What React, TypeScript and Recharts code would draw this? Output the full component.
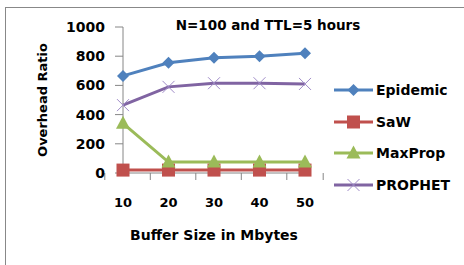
import { LineChart, Line, XAxis, YAxis } from "recharts";

const bufferSizes = ["10", "20", "30", "40", "50"];
const epidemic = [665, 755, 790, 800, 820];
const saw = [20, 20, 20, 20, 20];
const maxProp = [340, 75, 75, 75, 75];
const prophet = [465, 590, 615, 615, 610];
const yTicks = [0, 200, 400, 600, 800, 1000];

const data = bufferSizes.map((b, i) => ({
  b,
  Epidemic: epidemic[i],
  SaW: saw[i],
  MaxProp: maxProp[i],
  PROPHET: prophet[i],
}));

const W = 464;
const H = 265;
const M = { top: 27, right: 159, left: 0, bottom: 62 };
const Y_W = 123;
const X_H = 30;
const HALF_BAND = (W - Y_W - M.right) / bufferSizes.length / 2;
const FONT = "'DejaVu Sans', sans-serif";
const AXIS = "#868686";

const COLORS = {
  Epidemic: "#4F81BD",
  SaW: "#C0504D",
  MaxProp: "#9BBB59",
  PROPHET: "#8064A2",
};

function Marker({ kind, cx, cy }: { kind: string; cx: number; cy: number }) {
  if (kind === "Epidemic") {
    const r = 6;
    return (
      <polygon
        points={`${cx},${cy - r} ${cx + r},${cy} ${cx},${cy + r} ${cx - r},${cy}`}
        fill={COLORS.Epidemic}
      />
    );
  }
  if (kind === "SaW") {
    return <rect x={cx - 6.5} y={cy - 6.5} width={13} height={13} fill={COLORS.SaW} />;
  }
  if (kind === "MaxProp") {
    return (
      <polygon
        points={`${cx},${cy - 7.5} ${cx + 7},${cy + 5.5} ${cx - 7},${cy + 5.5}`}
        fill={COLORS.MaxProp}
      />
    );
  }
  const r = 6;
  return (
    <g stroke="#A08CC8" strokeWidth={1}>
      <line x1={cx - r} y1={cy - r} x2={cx + r} y2={cy + r} />
      <line x1={cx - r} y1={cy + r} x2={cx + r} y2={cy - r} />
    </g>
  );
}

function dotFor(kind: string) {
  return (p: any) => <Marker key={`${kind}-${p.index}`} kind={kind} cx={p.cx} cy={p.cy} />;
}

function XTick({ x, y, payload, index }: any) {
  return (
    <g>
      <line x1={x - HALF_BAND} y1={y} x2={x - HALF_BAND} y2={y + 7} stroke={AXIS} />
      {index === bufferSizes.length - 1 && (
        <line x1={x + HALF_BAND} y1={y} x2={x + HALF_BAND} y2={y + 7} stroke={AXIS} />
      )}
      <text
        x={x}
        y={y + 34}
        textAnchor="middle"
        fontFamily={FONT}
        fontWeight="bold"
        fontSize={13}
        fill="#000"
      >
        {payload.value}
      </text>
    </g>
  );
}

const series = ["Epidemic", "SaW", "MaxProp", "PROPHET"] as const;

function LegendBox() {
  return (
    <div style={{ position: "absolute", left: 334, top: 74 }}>
      {series.map((s) => (
        <div key={s} style={{ display: "flex", alignItems: "center", height: 31.7 }}>
          <svg width={40} height={16}>
            <line x1={0} y1={8} x2={39} y2={8} stroke={COLORS[s]} strokeWidth={3} />
            <Marker kind={s} cx={19.5} cy={8} />
          </svg>
          <span
            style={{
              fontFamily: FONT,
              fontWeight: "bold",
              fontSize: 14,
              marginLeft: 2,
              color: "#000",
            }}
          >
            {s}
          </span>
        </div>
      ))}
    </div>
  );
}

export default function App() {
  return (
    <div
      style={{
        position: "absolute",
        left: 0,
        top: 0,
        width: W,
        height: H,
        background: "#fff",
        overflow: "hidden",
      }}
    >
      <div
        style={{
          position: "absolute",
          left: 5,
          top: 7,
          width: W,
          height: H,
          borderLeft: "1.5px solid #888",
          borderTop: "1.5px solid #888",
        }}
      />
      <div
        style={{
          position: "absolute",
          left: 268,
          top: 17,
          transform: "translateX(-50%)",
          whiteSpace: "nowrap",
          fontFamily: FONT,
          fontWeight: "bold",
          fontSize: 13.5,
          color: "#000",
        }}
      >
        N=100 and TTL=5 hours
      </div>
      <LineChart width={W} height={H} data={data} margin={M}>
        <XAxis
          dataKey="b"
          height={X_H}
          axisLine={{ stroke: AXIS }}
          tickLine={false}
          tickSize={0}
          tickMargin={0}
          tick={<XTick />}
          interval={0}
          label={(p: any) => {
            const vb = p.viewBox;
            return (
              <text
                x={vb.x + vb.width / 2}
                y={vb.y + 67}
                textAnchor="middle"
                fontFamily={FONT}
                fontWeight="bold"
                fontSize={14}
                fill="#000"
              >
                Buffer Size in Mbytes
              </text>
            );
          }}
        />
        <YAxis
          width={Y_W}
          domain={[0, 1000]}
          ticks={yTicks}
          interval={0}
          axisLine={{ stroke: AXIS }}
          tickLine={{ stroke: AXIS }}
          tickSize={8}
          tickMargin={10}
          tick={{ fill: "#000", fontFamily: FONT, fontWeight: "bold", fontSize: 14 }}
          label={(p: any) => {
            const vb = p.viewBox;
            const cy = vb.y + vb.height / 2;
            return (
              <text
                x={42}
                y={cy}
                transform={`rotate(-90 42 ${cy})`}
                textAnchor="middle"
                dominantBaseline="central"
                fontFamily={FONT}
                fontWeight="bold"
                fontSize={13}
                fill="#000"
              >
                Overhead Ratio
              </text>
            );
          }}
        />
        {series.map((s) => (
          <Line
            key={s}
            dataKey={s}
            stroke={COLORS[s]}
            strokeWidth={3}
            dot={dotFor(s)}
            activeDot={false}
            isAnimationActive={false}
          />
        ))}
      </LineChart>
      <LegendBox />
    </div>
  );
}
